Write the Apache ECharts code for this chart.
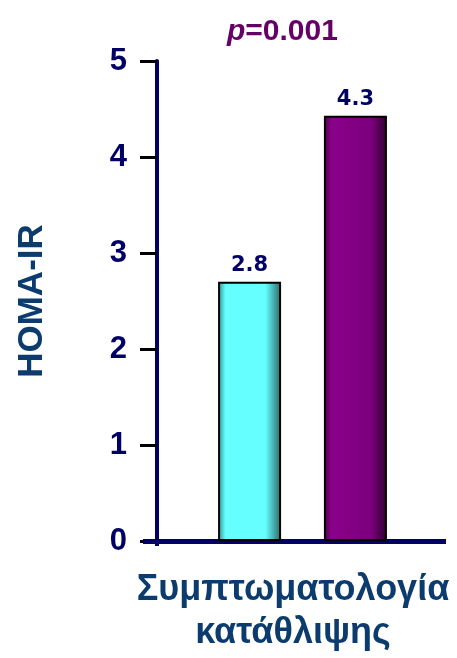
<!DOCTYPE html>
<html>
<head>
<meta charset="utf-8">
<script src="https://cdn.jsdelivr.net/npm/echarts@6/dist/echarts.min.js"></script>
<style>html,body{margin:0;padding:0;background:#fff;}#c{width:457px;height:658px;}</style>
</head>
<body>
<div id="c"></div>
<script>
var categories = ['Συμπτωματολογία\nκατάθλιψης'];
var seriesNames = ['Group A', 'Group B'];
var valuesA = [2.7];
var valuesB = [4.43];
var labelsA = ['2.8'];
var labelsB = ['4.3'];
var yTicks = [0, 1, 2, 3, 4, 5];

var navy = '#000066';
var titleBlue = '#0c3c6e';

var chart = echarts.init(document.getElementById('c'));

function barLabel(texts) {
  return {
    show: true, position: 'top', distance: 6,
    fontFamily: 'DejaVu Sans', fontWeight: 'bold', fontSize: 21, color: navy,
    formatter: function (p) { return texts[p.dataIndex]; }
  };
}

chart.setOption({
  animation: false,
  title: {
    text: '{i|p}{b|=0.001}',
    left: 222, top: 12,
    textStyle: {
      rich: {
        i: { fontFamily: 'Liberation Sans', fontWeight: 'bold', fontStyle: 'italic', fontSize: 30, color: '#660066' },
        b: { fontFamily: 'Liberation Sans', fontWeight: 'bold', fontSize: 30, color: '#660066' }
      }
    }
  },
  grid: { left: 157, right: 9, top: 61, bottom: 117, containLabel: false, outerBoundsMode: 'none' },
  xAxis: {
    type: 'category',
    data: categories,
    axisLine: { show: true, lineStyle: { color: navy, width: 5 } },
    axisTick: { show: false },
    axisLabel: {
      margin: 28,
      fontFamily: 'Liberation Sans', fontWeight: 'bold', fontSize: 36, color: titleBlue,
      lineHeight: 43, padding: [0, 19, 0, 0]
    }
  },
  yAxis: {
    type: 'value', min: yTicks[0], max: yTicks[yTicks.length - 1], interval: 1,
    name: 'HOMA-IR', nameLocation: 'middle', nameGap: 107,
    nameTextStyle: { fontFamily: 'Liberation Sans', fontWeight: 'bold', fontSize: 35, color: titleBlue },
    axisLine: { show: true, lineStyle: { color: navy, width: 4 } },
    axisTick: { show: true, length: 17, lineStyle: { color: '#000', width: 3 } },
    axisLabel: { margin: 30, fontFamily: 'Liberation Sans', fontWeight: 'bold', fontSize: 31, color: navy },
    splitLine: { show: false }
  },
  graphic: [
    { type: 'rect', shape: { x: 143, y: 539, width: 14, height: 5 }, style: { fill: navy }, z: 10 },
    { type: 'rect', shape: { x: 155, y: 540, width: 4, height: 6 }, style: { fill: navy }, z: 10 },
    { type: 'rect', shape: { x: 446, y: 536, width: 11, height: 10 }, style: { fill: '#fff' }, z: 10 }
  ],
  series: [
    {
      name: seriesNames[0], type: 'bar', data: valuesA, barWidth: 63, barGap: '68%',
      itemStyle: {
        borderColor: '#000', borderWidth: 2,
        color: new echarts.graphic.LinearGradient(0, 0, 1, 0, [
          { offset: 0, color: '#2f8f8f' },
          { offset: 0.12, color: '#66ffff' },
          { offset: 0.75, color: '#66ffff' },
          { offset: 1, color: '#2a6767' }
        ])
      },
      label: barLabel(labelsA)
    },
    {
      name: seriesNames[1], type: 'bar', data: valuesB, barWidth: 63,
      itemStyle: {
        borderColor: '#000', borderWidth: 2,
        color: new echarts.graphic.LinearGradient(0, 0, 1, 0, [
          { offset: 0, color: '#4a004a' },
          { offset: 0.12, color: '#8a008a' },
          { offset: 0.75, color: '#7c007c' },
          { offset: 1, color: '#2e002e' }
        ])
      },
      label: barLabel(labelsB)
    }
  ]
});
</script>
</body>
</html>
